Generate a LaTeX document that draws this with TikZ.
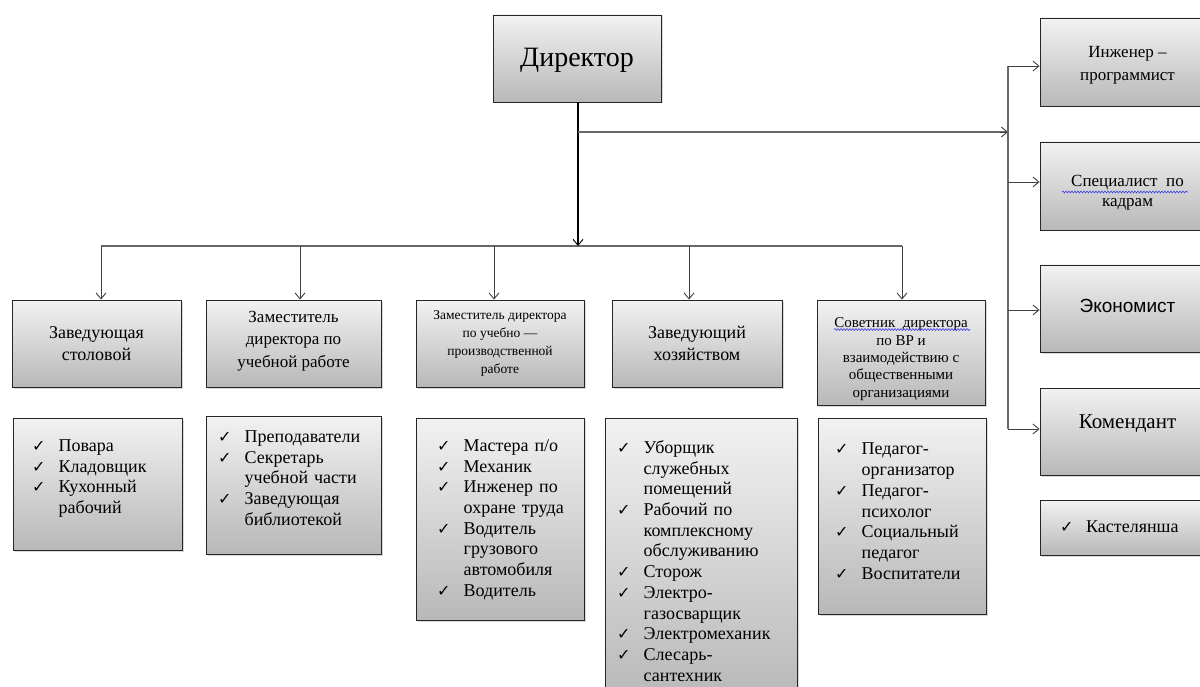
\documentclass[tikz,border=0pt]{standalone}
\usepackage{fontspec}
\setmainfont{Liberation Serif}
\newfontfamily\symfont{DejaVu Sans}
\newfontfamily\arialfont{Liberation Sans}
\usetikzlibrary{arrows.meta,shadows,decorations.pathmorphing}
\definecolor{boxtop}{RGB}{242,242,242}
\definecolor{boxbot}{RGB}{184,184,184}
\definecolor{linegray}{RGB}{105,105,105}
\definecolor{wavyblue}{RGB}{60,60,230}
\newcommand\fsz[2]{\fontsize{#1}{#2}\selectfont}
\newcommand\ckm{\makebox[26.5pt][l]{\symfont\fsz{16}{16}✓}}
\newcommand\itm{\par\noindent\ckm}
\newcommand\cnt{\par\noindent\hspace*{26.5pt}}
\newcommand\lowered[2]{\raisebox{#1}[\height][\depth]{\begin{tabular}{@{}c@{}}#2\end{tabular}}}
\begin{document}
\begin{tikzpicture}[x=1pt,y=-1pt,
  box/.style={draw=black!85, line width=0.9pt, top color=boxtop, bottom color=boxbot,
    drop shadow={shadow xshift=1.5pt,shadow yshift=-1.5pt,opacity=0.3},
    align=center, inner sep=1pt},
  listtxt/.style={anchor=north west, inner sep=0pt, text width=175pt, font=\fsz{18}{20.7}},
  conn/.style={draw=linegray, line width=1.3pt},
  arr/.style={draw=black!75, line width=0.9pt, -{Straight Barb[length=6pt,width=10pt,line width=0.9pt]}},
  wavy/.style={draw=wavyblue, line width=0.6pt, decorate, decoration={snake, amplitude=0.9pt, segment length=3pt}}
]
\useasboundingbox (0,0) rectangle (1200,687);
\clip (0,0) rectangle (1200,687);

% Director
\node[box, minimum width=168pt, minimum height=87pt, font=\fsz{28}{32}] (dir) at (577,58.5) {\raisebox{-1.5pt}[\height][\depth]{Директор}};

% Level 2
\node[box, minimum width=169pt, minimum height=87pt, font=\fsz{18}{22}] (b1) at (96.5,343.5) {Заведующая\\столовой};
\node[box, minimum width=175pt, minimum height=87pt, font=\fsz{17}{22.5}] (b2) at (293.5,343.5) {\lowered{3.5pt}{Заместитель\\директора по\\учебной работе}};
\node[box, minimum width=168pt, minimum height=87pt, font=\fsz{13.5}{18}] (b3) at (500,343.5) {Заместитель директора\\по учебно —\\производственной\\работе};
\node[box, minimum width=170pt, minimum height=87pt, font=\fsz{18}{21.5}] (b4) at (697,343.5) {Заведующий\\хозяйством};
\node[box, minimum width=168pt, minimum height=105pt, font=\fsz{15}{17.3}] (b5) at (901,352.5) {\lowered{-6.5pt}{Советник~~директора\\по ВР и\\взаимодействию с\\общественными\\организациями}};

% Level 3 boxes
\node[box, minimum width=169pt, minimum height=132pt] (c1) at (97.5,484) {};
\node[box, minimum width=175pt, minimum height=138pt] (c2) at (293.5,485) {};
\node[box, minimum width=168pt, minimum height=202pt] (c3) at (500,519) {};
\node[box, minimum width=192pt, minimum height=282pt] (c4) at (701,559) {};
\node[box, minimum width=168pt, minimum height=196pt] (c5) at (902,516) {};

\node[listtxt] (t1) at (32,430.5) {\itm Повара\itm Кладовщик\itm Кухонный\cnt рабочий};
\node[listtxt] (t2) at (218,421.5) {\itm Преподаватели\itm Секретарь\cnt учебной части\itm Заведующая\cnt библиотекой};
\node[listtxt] (t3) at (437,430.5) {\itm Мастера п/о\itm Механик\itm Инженер по\cnt охране труда\itm Водитель\cnt грузового\cnt автомобиля\itm Водитель};
\node[listtxt] (t4) at (617,432.5) {\itm Уборщик\cnt служебных\cnt помещений\itm Рабочий по\cnt комплексному\cnt обслуживанию\itm Сторож\itm Электро-\cnt газосварщик\itm Электромеханик\itm Слесарь-\cnt сантехник};
\node[listtxt] (t5) at (835,434) {\itm Педагог-\cnt организатор\itm Педагог-\cnt психолог\itm Социальный\cnt педагог\itm Воспитатели};

% Right column
\node[box, minimum width=175pt, minimum height=88pt, font=\fsz{17}{23}] (r1) at (1127.5,62) {\lowered{-2.5pt}{Инженер –\\программист}};
\node[box, minimum width=175pt, minimum height=88pt, font=\fsz{17}{20.5}] (r2) at (1127.5,186) {\lowered{-6.5pt}{Специалист~~по\\кадрам}};
\node[box, minimum width=175pt, minimum height=87pt, font=\arialfont\fsz{19}{22}] (r3) at (1127.5,308.5) {\raisebox{3pt}[\height][\depth]{Экономист}};
\node[box, minimum width=175pt, minimum height=87pt, font=\fsz{21}{24}] (r4) at (1127.5,431.5) {\raisebox{8pt}[\height][\depth]{Комендант}};
\node[box, minimum width=175pt, minimum height=55pt] (r5) at (1127.5,527.5) {};
\node[anchor=west, inner sep=0pt, font=\fsz{18}{20}] (t6) at (1060,527) {\ckm\hspace*{-0.5pt}Кастелянша};

% spell-check underlines
\draw[wavy] (834,329.5) -- (970,329.5);
\draw[wavy] (1062,192) -- (1188,192);

% connectors
\coordinate (bus) at (578,246);
\coordinate (rj) at (578,132);
\coordinate (vr) at (1008,132);
\coordinate (a1) at (101,246);
\coordinate (a2) at (300,246);
\coordinate (a3) at (494,246);
\coordinate (a4) at (689,246);
\coordinate (a5) at (902,246);
\coordinate (v1) at (1008,66);
\coordinate (v2) at (1008,182);
\coordinate (v3) at (1008,310);
\coordinate (v4) at (1008,429);

\draw[conn] (a1) -- (a5);
\draw[arr, draw=black, line width=1.1pt] (dir.south -| bus) -- (bus);
\draw[conn] (rj) -- (vr);
\draw[arr] ([xshift=-8pt]vr) -- (vr);
\draw[conn] (v1) -- (v4);
\foreach \i in {1,...,5}{\draw[arr] (a\i) -- (a\i |- b\i.north);}
\foreach \i in {1,...,4}{\draw[arr] (v\i) -- (v\i -| r\i.west);}
\end{tikzpicture}
\end{document}
